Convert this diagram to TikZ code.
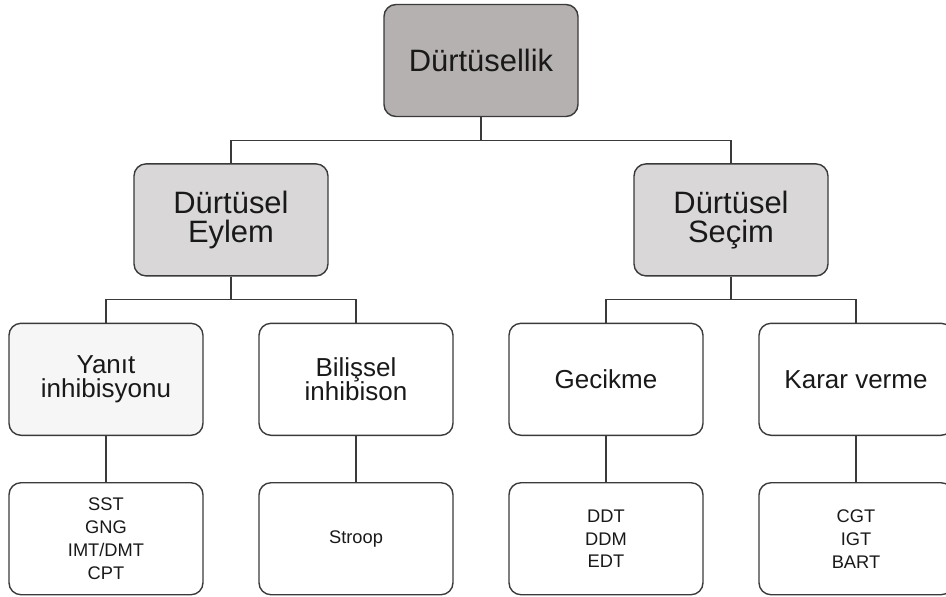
\documentclass[tikz,border=0pt]{standalone}
\usepackage{fontspec}
\setmainfont{Liberation Sans}
\usepackage{tikz}
\usetikzlibrary{positioning}
\usepackage{xcolor}
\definecolor{topgray}{HTML}{B5B1B0}
\definecolor{midgray}{HTML}{D9D7D8}
\definecolor{palegray}{HTML}{F6F6F6}
\definecolor{edgegray}{HTML}{3A3A3A}
\tikzstyle{box} = [draw=edgegray, line width=1pt, rounded corners=0.3cm, minimum width=4.85cm, minimum height=2.8cm, inner sep=0pt, align=center, text=black!90]
\tikzstyle{branch} = [draw=edgegray, line width=0.8pt, to path={(\tikztostart.south) -- ++(0,-0.575) -| (\tikztotarget.north)}]

\begin{document}
\begin{tikzpicture}[node distance=1.15cm and 1.4cm]
    \useasboundingbox (-12.025,1.5125) rectangle (11.625,-13.3875);
        \node[box, fill=topgray, font=\fontsize{22}{21}\selectfont] (d0) {Dürtüsellik};
        \node[box, fill=midgray, font=\fontsize{22}{21}\selectfont, below=of d0, xshift=-6.25cm] (e1) {Dürtüsel\\Eylem};
        \node[box, fill=midgray, font=\fontsize{22}{21}\selectfont, below=of d0, xshift=6.25cm] (s1) {Dürtüsel\\Seçim};
        \node[box, fill=palegray, font=\fontsize{18.5}{17.5}\selectfont, below=of e1, xshift=-3.125cm] (y2) {Yanıt\\inhibisyonu};
        \node[box, font=\fontsize{18.5}{17.5}\selectfont, below=of e1, xshift=3.125cm] (b2) {Bilişsel\\inhibison};
        \node[box, font=\fontsize{18.5}{17.5}\selectfont, below=of s1, xshift=-3.125cm] (g2) {Gecikme};
        \node[box, font=\fontsize{18.5}{17.5}\selectfont, below=of s1, xshift=3.125cm] (k2) {Karar verme};
        \node[box, font=\fontsize{13}{16.3}\selectfont, below=of y2] (y3) {SST\\GNG\\IMT/DMT\\CPT};
        \node[box, font=\fontsize{13}{16.3}\selectfont, below=of b2] (b3) {Stroop};
        \node[box, font=\fontsize{13}{16.3}\selectfont, below=of g2] (g3) {DDT\\DDM\\EDT};
        \node[box, font=\fontsize{13}{16.3}\selectfont, below=of k2] (k3) {CGT\\IGT\\BART};
        \draw (d0) edge[branch] (e1)
        (d0) edge[branch] (s1)
        (e1) edge[branch] (y2)
        (e1) edge[branch] (b2)
        (s1) edge[branch] (g2)
        (s1) edge[branch] (k2)
        (y2) edge[branch] (y3)
        (b2) edge[branch] (b3)
        (g2) edge[branch] (g3)
        (k2) edge[branch] (k3);
    \end{tikzpicture}
\end{document}
